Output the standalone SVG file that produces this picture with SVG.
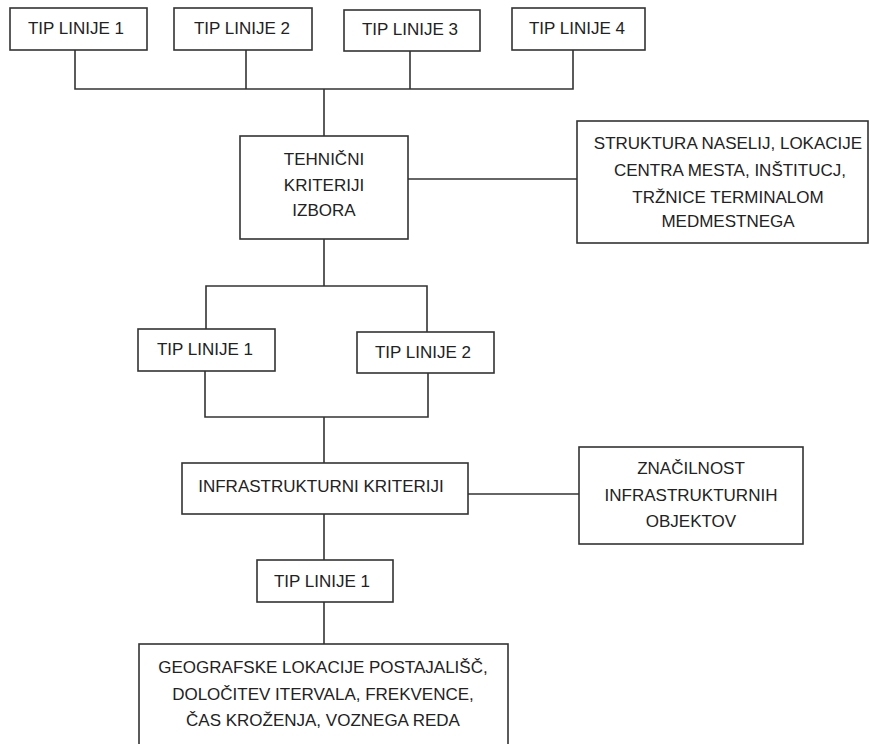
<svg xmlns="http://www.w3.org/2000/svg" width="870" height="744" viewBox="0 0 870 744">
<style>
.box{fill:#fff;stroke:#333;stroke-width:1.6}
.c{fill:none;stroke:#333;stroke-width:1.6}
text{font-family:"Liberation Sans",Arial,sans-serif;font-size:17px;fill:#222;text-anchor:middle}
</style>
<rect width="870" height="744" fill="#fff"/>
<g id="connectors">
<polyline class="c" points="75,50 75,89 573,89 573,50"/>
<line class="c" x1="246" y1="50" x2="246" y2="89"/>
<line class="c" x1="410" y1="51" x2="410" y2="89"/>
<line class="c" x1="324" y1="89" x2="324" y2="136"/>
<line class="c" x1="408" y1="179" x2="577" y2="179"/>
<line class="c" x1="324" y1="239" x2="324" y2="286"/>
<polyline class="c" points="206,329 206,286 427,286 427,332"/>
<polyline class="c" points="205,371 205,417 428,417 428,373"/>
<line class="c" x1="324" y1="417" x2="324" y2="463"/>
<line class="c" x1="468" y1="494" x2="579" y2="494"/>
<line class="c" x1="324" y1="514" x2="324" y2="560"/>
<line class="c" x1="324" y1="602" x2="324" y2="644"/>
</g>
<g id="t1"><rect class="box" x="10" y="8" width="137" height="42"/><text x="76" y="34">TIP LINIJE 1</text></g>
<g id="t2"><rect class="box" x="174" y="8" width="138" height="42"/><text x="242" y="34">TIP LINIJE 2</text></g>
<g id="t3"><rect class="box" x="344" y="10" width="136" height="41"/><text x="410" y="35">TIP LINIJE 3</text></g>
<g id="t4"><rect class="box" x="512" y="8" width="133" height="42"/><text x="577" y="34">TIP LINIJE 4</text></g>
<g id="tehnicni"><rect class="box" x="240" y="136" width="168" height="103"/>
<text x="324" y="165">TEHNIČNI</text><text x="324" y="191">KRITERIJI</text><text x="324" y="216">IZBORA</text></g>
<g id="struktura"><rect class="box" x="577" y="121" width="291" height="122"/>
<text x="728" y="149">STRUKTURA NASELIJ, LOKACIJE</text><text x="730" y="176">CENTRA MESTA, INŠTITUCJ,</text><text x="728" y="203">TRŽNICE TERMINALOM</text><text x="728" y="227">MEDMESTNEGA</text></g>
<g id="m1"><rect class="box" x="138" y="329" width="137" height="42"/><text x="205" y="355">TIP LINIJE 1</text></g>
<g id="m2"><rect class="box" x="357" y="332" width="137" height="41"/><text x="423" y="358">TIP LINIJE 2</text></g>
<g id="infra"><rect class="box" x="182" y="463" width="286" height="51"/><text x="321" y="492">INFRASTRUKTURNI KRITERIJI</text></g>
<g id="znacilnost"><rect class="box" x="579" y="447" width="224" height="97"/>
<text x="691" y="474">ZNAČILNOST</text><text x="691" y="501">INFRASTRUKTURNIH</text><text x="691" y="527">OBJEKTOV</text></g>
<g id="b1"><rect class="box" x="257" y="560" width="136" height="42"/><text x="322" y="587">TIP LINIJE 1</text></g>
<g id="geo"><rect class="box" x="139" y="644" width="369" height="110"/>
<text x="323" y="673">GEOGRAFSKE LOKACIJE POSTAJALIŠČ,</text><text x="323" y="700">DOLOČITEV ITERVALA, FREKVENCE,</text><text x="323" y="726">ČAS KROŽENJA, VOZNEGA REDA</text></g>
</svg>
